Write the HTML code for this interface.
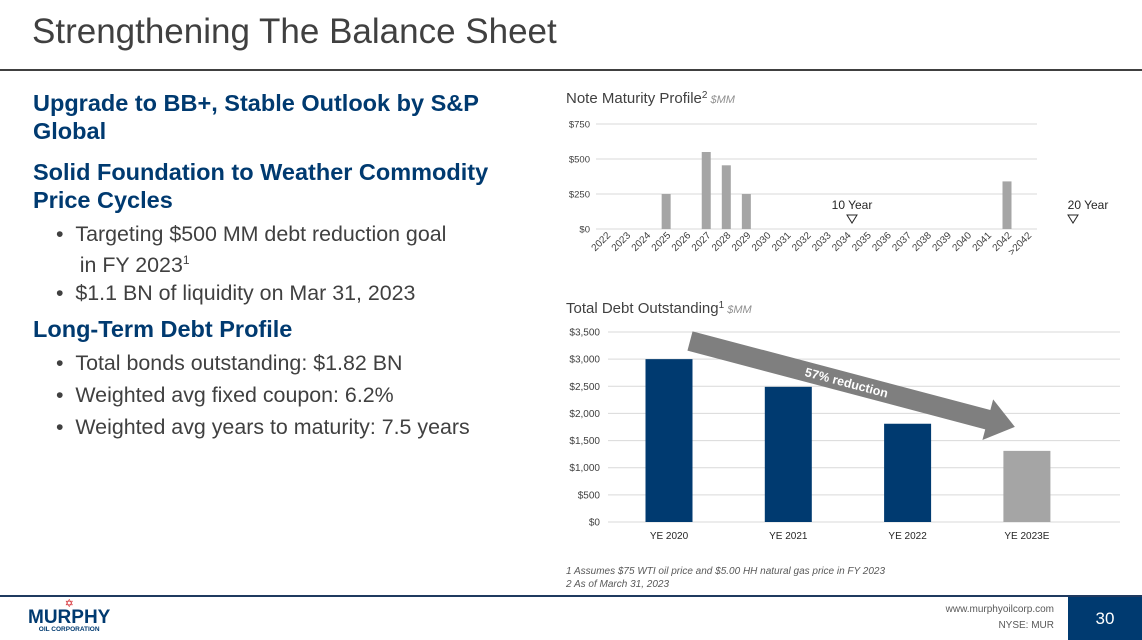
<!DOCTYPE html>
<html><head><meta charset="utf-8"><style>
body{margin:0;width:1142px;height:640px;position:relative;background:#fff;font-family:"Liberation Sans",Arial,sans-serif;overflow:hidden}
.a{position:absolute}
h1{position:absolute;left:32px;top:12px;margin:0;font-weight:normal;font-size:35px;color:#404040}
.hd{color:#003a70;font-weight:bold;font-size:23.5px;line-height:28px}
.bl{font-size:21.4px;color:#404040;line-height:26px}
</style></head><body>
<h1>Strengthening The Balance Sheet</h1>
<div class="a" style="left:0;top:69px;width:1142px;height:2px;background:#404040"></div>
<div class="a hd" style="left:33px;top:89px;width:475px">Upgrade to BB+, Stable Outlook by S&amp;P Global</div>
<div class="a hd" style="left:33px;top:158px;width:475px">Solid Foundation to Weather Commodity Price Cycles</div>
<div class="a bl" style="left:56px;top:221px">•&nbsp;&nbsp;Targeting $500 MM debt reduction goal<br>&nbsp;&nbsp;&nbsp;&nbsp;in FY 2023<sup style="font-size:12px">1</sup></div>
<div class="a bl" style="left:56px;top:280px">•&nbsp;&nbsp;$1.1 BN of liquidity on Mar 31, 2023</div>
<div class="a hd" style="left:33px;top:315px">Long-Term Debt Profile</div>
<div class="a bl" style="left:56px;top:350px">•&nbsp;&nbsp;Total bonds outstanding: $1.82 BN</div>
<div class="a bl" style="left:56px;top:382px">•&nbsp;&nbsp;Weighted avg fixed coupon: 6.2%</div>
<div class="a bl" style="left:56px;top:414px">•&nbsp;&nbsp;Weighted avg years to maturity: 7.5 years</div>

<svg class="a" style="left:0;top:0" width="1142" height="640" font-family="Liberation Sans, Arial, sans-serif">
<text x="566" y="103" font-size="15" fill="#404040">Note Maturity Profile<tspan font-size="10" dy="-5">2</tspan><tspan dy="5" font-size="11" fill="#909090" font-style="italic"> $MM</tspan></text>
<text x="566" y="313" font-size="15" fill="#404040">Total Debt Outstanding<tspan font-size="10" dy="-5">1</tspan><tspan dy="5" font-size="11" fill="#909090" font-style="italic"> $MM</tspan></text>
<g id="c1"></g><g id="c2"></g>
<text x="566" y="574" font-size="10" fill="#595959" font-style="italic">1 Assumes $75 WTI oil price and $5.00 HH natural gas price in FY 2023</text>
<text x="566" y="587" font-size="10" fill="#595959" font-style="italic">2 As of March 31, 2023</text>
</svg>

<div class="a" style="left:0;top:595px;width:1142px;height:2px;background:#1f3a5f"></div>
<div class="a" style="left:1068px;top:597px;width:74px;height:43px;background:#003a70;color:#fff;font-size:17px;text-align:center;line-height:43px">30</div>
<div class="a" style="right:88px;top:604px;font-size:10px;color:#595959">www.murphyoilcorp.com</div>
<div class="a" style="right:88px;top:620px;font-size:10px;color:#595959">NYSE: MUR</div>
<div class="a" style="left:28px;top:598px;color:#003a70;text-align:center">
<div style="color:#d2232a;font-size:11px;line-height:12px">✡</div>
<div style="font-weight:bold;font-size:19px;line-height:16px">MURPHY</div>
<div style="font-size:6.5px;font-weight:bold">OIL CORPORATION</div></div>

<script>
const matYears=["2022","2023","2024","2025","2026","2027","2028","2029","2030","2031","2032","2033","2034","2035","2036","2037","2038","2039","2040","2041","2042",">2042"];
const matValues=[0,0,0,250,0,550,455,250,0,0,0,0,0,0,0,0,0,0,0,0,340,0];
const matTicks=[0,250,500,750];
const debtCats=["YE 2020","YE 2021","YE 2022","YE 2023E"];
const debtValues=[3000,2490,1810,1310];
const debtTicks=[0,500,1000,1500,2000,2500,3000,3500];
const NS="http://www.w3.org/2000/svg";
function mk(p,t,a,txt){const e=document.createElementNS(NS,t);for(const k in a)e.setAttribute(k,a[k]);if(txt!=null)e.textContent=txt;p.appendChild(e);return e;}
const c1=document.getElementById('c1');
const x1=i=>606+i*20.05, y1=v=>229-v*(105/750);
matTicks.forEach(t=>{const l=mk(c1,'line',{x1:596,x2:1037,y1:y1(t),y2:y1(t),stroke:'#d9d9d9'});

const tx=mk(c1,'text',{x:590,y:y1(t)+3.5,'font-size':9.5,fill:'#404040','text-anchor':'end'},'$'+t);
});
matValues.forEach((v,i)=>{if(v>0){const r=mk(c1,'rect',{x:x1(i)-4.5,y:y1(v),width:9,height:y1(0)-y1(v),fill:'#a5a5a5'});
}
const tx=mk(c1,'text',{x:0,y:0,'font-size':10,fill:'#404040','text-anchor':'end',transform:`translate(${x1(i)+5},${236}) rotate(-45)`},matYears[i]);
});
[[852,852,'10 Year'],[1088,1073,'20 Year']].forEach(([x,tx2,s])=>{const t=mk(c1,'text',{x:x,y:209,'font-size':12,fill:'#262626','text-anchor':'middle'},s);

const p=mk(c1,'path',{d:`M${tx2-5} 215 h10 l-5 8 z`,fill:'none',stroke:'#262626','stroke-width':1});
});
const c2=document.getElementById('c2');
const x2=i=>669+i*119.3, y2=v=>522-v*(190/3500);
debtTicks.forEach(t=>{const l=mk(c2,'line',{x1:608,x2:1120,y1:y2(t),y2:y2(t),stroke:'#d9d9d9'});

const tx=mk(c2,'text',{x:600,y:y2(t)+3.5,'font-size':10,fill:'#404040','text-anchor':'end'},'$'+t.toLocaleString('en-US'));
});
debtValues.forEach((v,i)=>{const r=mk(c2,'rect',{x:x2(i)-23.5,y:y2(v),width:47,height:y2(0)-y2(v),fill:i==3?'#a5a5a5':'#003a70'});

const tx=mk(c2,'text',{x:x2(i),y:539,'font-size':10,fill:'#262626','text-anchor':'middle'},debtCats[i]);
});
const g=mk(c2,'g',{transform:'translate(690,341) rotate(14.8)'});

mk(g,'path',{d:'M0 -10 H308 V-21 L336 0 L308 21 V10 H0 Z',fill:'#7f7f7f'});
const at=mk(g,'text',{x:162,y:4.5,'font-size':12.5,'font-weight':'bold',fill:'#fff','text-anchor':'middle'},'57% reduction');

</script>
</body></html>
